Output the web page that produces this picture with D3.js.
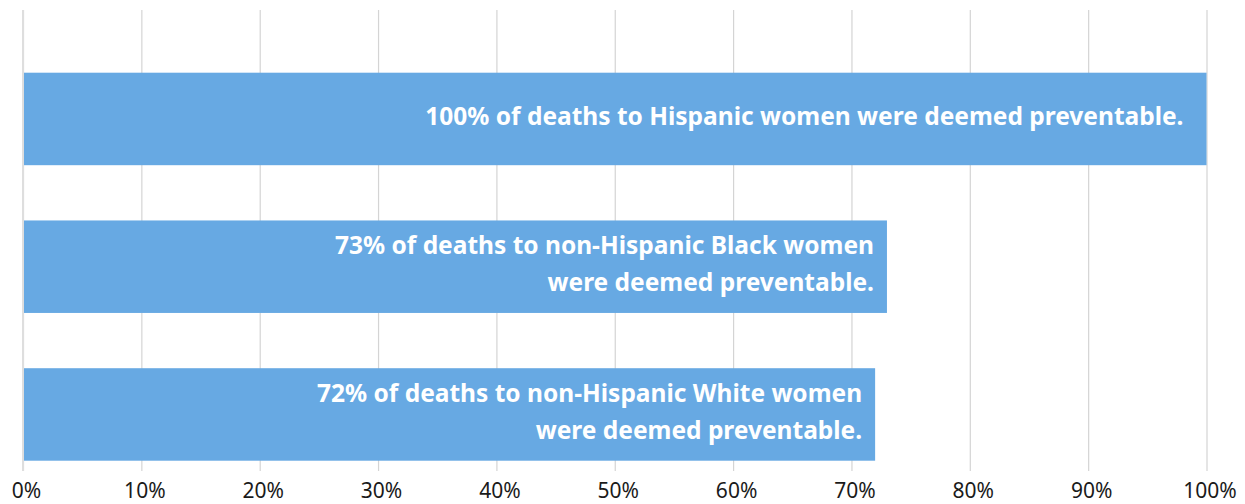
<!DOCTYPE html>
<html>
<head>
<meta charset="utf-8">
<script src="https://cdn.jsdelivr.net/npm/d3@7"></script>
<style>
  html, body { margin: 0; padding: 0; background: #fff; }
  svg { display: block; }
  text { font-family: "Noto Sans", "Open Sans", sans-serif; }
</style>
</head>
<body>
<svg id="chart" width="1245" height="504"></svg>
<script>
// Share of pregnancy-related deaths deemed preventable, by race/ethnicity
const groups = ["Hispanic", "non-Hispanic Black", "non-Hispanic White"];
const preventable = [100, 73, 72];
const labelLines = [
  ["100% of deaths to Hispanic women were deemed preventable."],
  ["73% of deaths to non-Hispanic Black women", "were deemed preventable."],
  ["72% of deaths to non-Hispanic White women", "were deemed preventable."]
];
const tickValues = [0, 10, 20, 30, 40, 50, 60, 70, 80, 90, 100];

const svg = d3.select("#chart");
const plotLeft = 23, plotRight = 1206.5, plotTop = 10, plotBottom = 471;

const x = d3.scaleLinear().domain([0, 100]).range([plotLeft, plotRight]);
const y = d3.scaleBand().domain(groups).range([72.7, 460.7]).paddingInner(0.374).paddingOuter(0);

// vertical gridlines with tick labels
const axis = d3.axisBottom(x)
  .tickValues(tickValues)
  .tickFormat(d => d + "%")
  .tickSize(plotBottom - plotTop)
  .tickPadding(12);

const g = svg.append("g")
  .attr("transform", `translate(0,${plotTop})`)
  .call(axis);
g.select(".domain").remove();
g.selectAll(".tick line").attr("stroke", "#d4d4d4").attr("stroke-width", 1.2);
g.selectAll(".tick text")
  .attr("fill", "#1a1a1a")
  .attr("font-size", 21)
  .attr("dx", 3)
  .attr("font-family", "'Noto Sans', sans-serif");

// category axis line at 0%
svg.append("line")
  .attr("x1", x(0)).attr("x2", x(0))
  .attr("y1", plotTop).attr("y2", plotBottom)
  .attr("stroke", "#dedede").attr("stroke-width", 2);

// bars
const data = groups.map((grp, i) => ({ grp, v: preventable[i], lines: labelLines[i] }));
svg.append("g").selectAll("rect")
  .data(data)
  .join("rect")
  .attr("x", x(0) + 1)
  .attr("y", d => y(d.grp))
  .attr("width", d => x(d.v) - x(0) - 1)
  .attr("height", y.bandwidth())
  .attr("fill", "#67a9e3");

// labels inside bars, right aligned
const lineGap = 37;
const insets = d => d.v === 100 ? 23 : 13;
const lab = svg.append("g").selectAll("text")
  .data(data)
  .join("text")
  .attr("text-anchor", "end")
  .attr("fill", "#ffffff")
  .attr("font-weight", "bold")
  .attr("font-size", 24.5)
  .attr("font-family", "'Noto Sans', sans-serif");

lab.each(function(d) {
  const cy = y(d.grp) + y.bandwidth() / 2 - 3;
  const n = d.lines.length;
  d3.select(this).selectAll("tspan")
    .data(d.lines)
    .join("tspan")
    .attr("x", x(d.v) - insets(d))
    .attr("y", (t, j) => cy + (j - (n - 1) / 2) * lineGap)
    .attr("dy", "0.36em")
    .text(t => t);
});
</script>
</body>
</html>
